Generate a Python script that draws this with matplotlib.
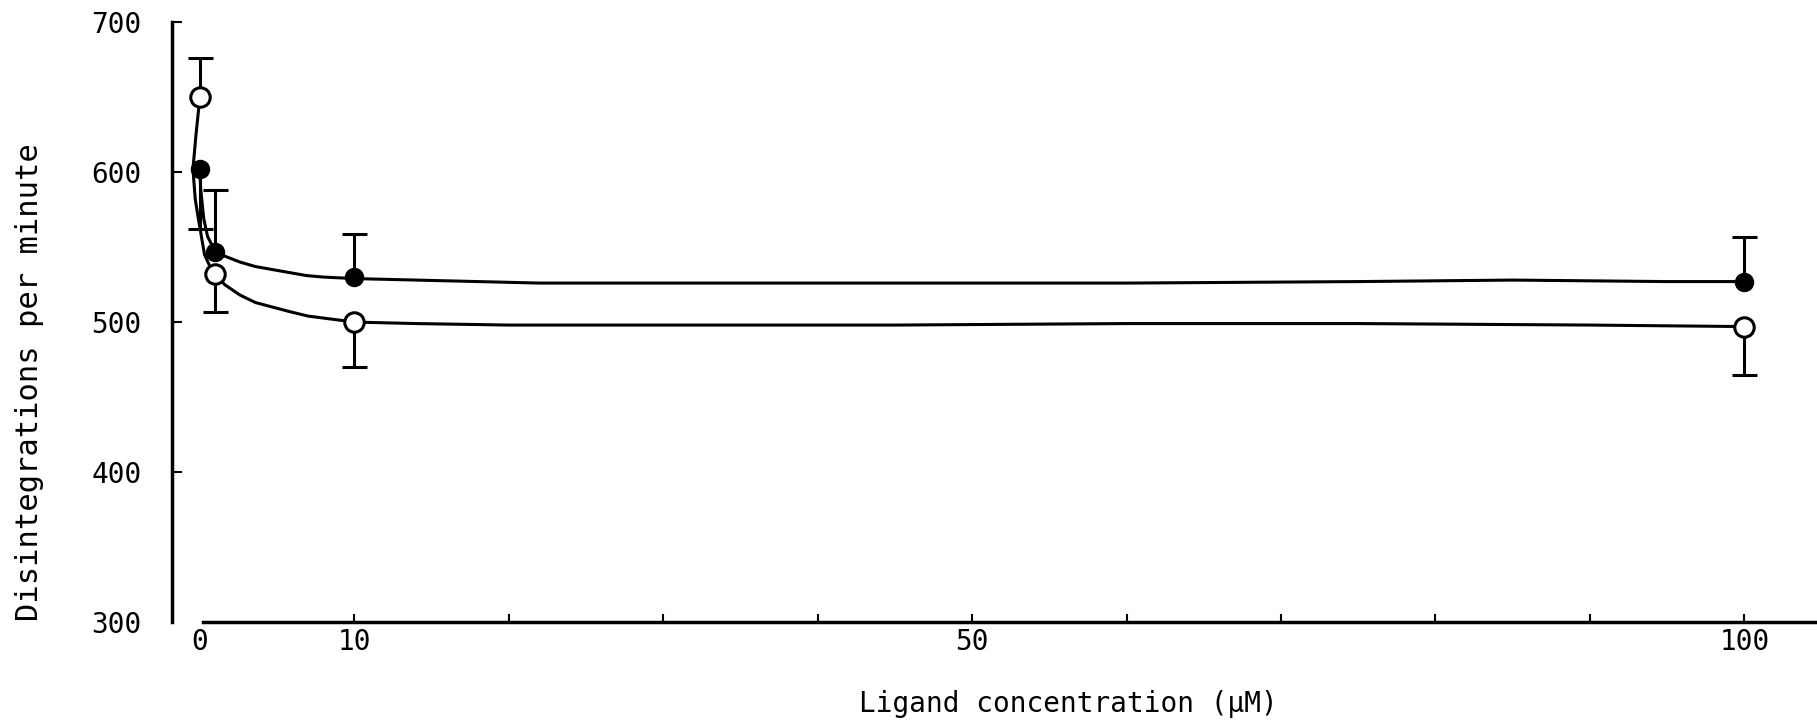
"""
Disintegrations per minute vs ligand concentration
(two series: filled and open circles, with error bars and fitted curves)
"""
import numpy as np
import matplotlib
matplotlib.use("Agg")
import matplotlib.pyplot as plt

# -----------------------------------------------------------------------------
# data

conc = [0, 1, 10, 100]

# filled circles (error bar drawn on the outer side only)
dpm_filled = [602, 547, 530, 527]
err_filled_lo = [40, 0, 0, 0]
err_filled_hi = [0, 41, 29, 30]

# open circles
dpm_open = [650, 532, 500, 497]
err_open_lo = [0, 25, 30, 32]
err_open_hi = [26, 0, 0, 0]

# hand drawn curves through the points
curve_filled_x = [0, 0.05, 0.25, 0.5, 0.8, 1, 1.6, 2.6, 3.6, 4.7, 5.8, 6.9, 8, 10, 14, 18, 22, 30, 45, 60, 75, 85, 95, 100]
curve_filled_y = [602, 589, 569, 557, 551, 547, 544, 540, 537, 535, 533, 531, 530, 529, 528, 527, 526, 526, 526, 526, 527, 528, 527, 527]

curve_open_x = [0, -0.25, -0.45, -0.3, -0.1, 0.3, 0.7, 1, 1.6, 2.6, 3.6, 4.7, 5.8, 7, 8.5, 10, 14, 20, 30, 45, 60, 75, 90, 100]
curve_open_y = [650, 625, 602, 582, 569, 545, 536, 532, 525, 518, 513, 510, 507, 504, 502, 500, 499, 498, 498, 498, 499, 499, 498, 497]

xtick_pos = [0, 10, 20, 30, 40, 50, 60, 70, 80, 90, 100]
xtick_lab = ["0", "10", "", "", "", "50", "", "", "", "", "100"]
ytick_pos = [300, 400, 500, 600, 700]

# -----------------------------------------------------------------------------

def half_errorbar(ax, x, y, lo, hi):
    """Desenha so o lado da barra de erro que existe (sem cap no ponto)."""
    x = np.asarray(x, float)
    y = np.asarray(y, float)
    lo = np.asarray(lo, float)
    hi = np.asarray(hi, float)
    for err, sign in ((lo, -1), (hi, 1)):
        m = err > 0
        if not m.any():
            continue
        # barra do ponto ate a ponta, cap so na ponta
        ax.vlines(x[m], y[m], y[m] + sign * err[m], color="black", lw=2.2, zorder=2)
        ax.plot(x[m], y[m] + sign * err[m], ls="none", marker="_", ms=18,
                mew=2.2, color="black", zorder=2)


plt.rcParams["font.family"] = ["DejaVu Sans Mono"]

fig = plt.figure(figsize=(18.17, 7.28), dpi=100)
ax = fig.add_axes([0.0947, 0.1456, 0.9053, 0.824])

# curves
ax.plot(curve_filled_x, curve_filled_y, color="black", lw=2.2, zorder=2)
ax.plot(curve_open_x, curve_open_y, color="black", lw=2.2, zorder=2)

# error bars
half_errorbar(ax, conc, dpm_filled, err_filled_lo, err_filled_hi)
half_errorbar(ax, conc, dpm_open, err_open_lo, err_open_hi)

# markers
ax.plot(conc, dpm_filled, ls="none", marker="o", mfc="black", mec="black",
        ms=12, mew=2, zorder=3)
ax.plot(conc, dpm_open, ls="none", marker="o", mfc="white", mec="black",
        ms=14, mew=2.2, zorder=4)

ax.set_xlim(-1.8, 104.7)
ax.set_ylim(300, 700)

# axes look
ax.spines["top"].set_visible(False)
ax.spines["right"].set_visible(False)
ax.spines["left"].set_linewidth(2.5)
ax.spines["bottom"].set_linewidth(2.5)
ax.spines["bottom"].set_bounds(0.2, 104.7)

ax.set_xticks(xtick_pos)
ax.set_xticklabels(xtick_lab)
ax.set_yticks(ytick_pos)
ax.tick_params(axis="x", direction="in", length=6, width=1.5, pad=4, labelsize=20)
ax.tick_params(axis="y", direction="in", length=7, width=1.5, pad=22, labelsize=20)
# no tick line at 0 on x, none at 300 on y
ax.xaxis.get_major_ticks()[0].tick1line.set_visible(False)
ax.yaxis.get_major_ticks()[0].tick1line.set_visible(False)

ax.set_xlabel("Ligand concentration (µM)", fontsize=20)
ax.set_ylabel("Disintegrations per minute", fontsize=22)
ax.xaxis.set_label_coords(0.545, -0.113)
ax.yaxis.set_label_coords(-0.078, 0.4)

plt.savefig("out.png", dpi=100)
